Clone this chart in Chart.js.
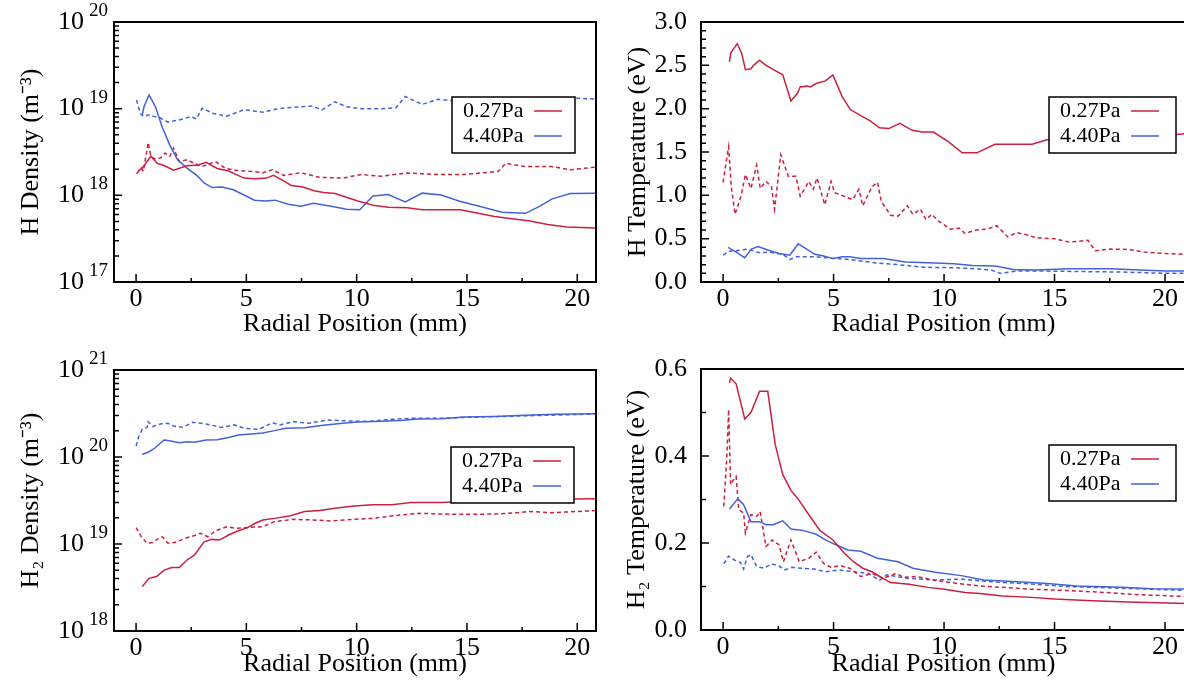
<!DOCTYPE html>
<html>
<head>
<meta charset="utf-8">
<script src="https://cdn.jsdelivr.net/npm/chart.js@4.4.1/dist/chart.umd.min.js"></script>
<style>
  html, body { margin: 0; padding: 0; background: #fff; overflow: hidden; }
  body { width: 1184px; height: 687px; position: relative; }
  canvas { position: absolute; }
</style>
</head>
<body>
<canvas id="hDensity" width="600" height="340" style="left:0;top:0"></canvas>
<canvas id="hTemp" width="600" height="340" style="left:600px;top:0"></canvas>
<canvas id="h2Density" width="600" height="347" style="left:0;top:340px"></canvas>
<canvas id="h2Temp" width="600" height="347" style="left:600px;top:340px"></canvas>
<script>
const RED = 'rgb(204, 32, 64)';
const BLUE = 'rgb(66, 99, 216)';
const FONT = "'Liberation Serif', 'Times New Roman', serif";

const pressures = ['0.27Pa', '4.40Pa'];
const xTicks = [0, 5, 10, 15, 20];
const xTickLabels = ['0', '5', '10', '15', '20'];

// tick values / labels of the four y axes (log labels are 10 + exponent)
const hDensTicks = [1e17, 1e18, 1e19, 1e20];
const hDensTickExp = ['17', '18', '19', '20'];
const h2DensTicks = [1e18, 1e19, 1e20, 1e21];
const h2DensTickExp = ['18', '19', '20', '21'];
const hTempTicks = [0, 0.5, 1.0, 1.5, 2.0, 2.5, 3.0];
const hTempTickLabels = ['0.0', '0.5', '1.0', '1.5', '2.0', '2.5', '3.0'];
const h2TempTicks = [0, 0.2, 0.4, 0.6];
const h2TempTickLabels = ['0.0', '0.2', '0.4', '0.6'];

// H density (m^-3) : [radial position mm, value]
const hDens027 = [[0.1,1.9e18],[0.33,2.14e18],[0.67,2.82e18],[0.96,2.34e18],[1.27,2.21e18],[1.70,1.95e18],[2.31,2.19e18],[2.82,2.24e18],[3.17,2.40e18],[3.68,2.04e18],[4.20,1.91e18],[4.89,1.58e18],[5.37,1.55e18],[5.92,1.58e18],[6.23,1.70e18],[6.61,1.51e18],[7.04,1.30e18],[7.56,1.25e18],[8.07,1.13e18],[8.50,1.08e18],[9.02,1.05e18],[9.54,9.5e17],[10.05,8.6e17],[10.74,7.7e17],[11.43,7.3e17],[12.29,7.2e17],[12.98,6.8e17],[13.84,6.8e17],[14.70,6.8e17],[15.39,6.3e17],[16.25,5.7e17],[16.94,5.4e17],[17.80,5.1e17],[18.66,4.6e17],[19.52,4.3e17],[20.85,4.2e17]];
const hDens027Dash = [[0.02,1.78e18],[0.24,2.06e18],[0.33,1.89e18],[0.55,4.07e18],[0.67,2.82e18],[0.84,2.63e18],[1.10,2.69e18],[1.31,3.07e18],[1.53,2.81e18],[1.70,3.50e18],[1.96,2.45e18],[2.31,2.57e18],[2.65,2.34e18],[2.99,2.15e18],[3.60,2.45e18],[4.03,2.06e18],[4.54,1.94e18],[5.23,1.89e18],[5.75,1.82e18],[6.18,1.97e18],[6.70,1.70e18],[7.47,1.82e18],[8.33,1.61e18],[9.36,1.58e18],[10.22,1.74e18],[11.08,1.66e18],[12.29,1.81e18],[13.67,1.74e18],[14.87,1.74e18],[16.42,1.89e18],[16.76,2.34e18],[17.62,2.15e18],[18.83,2.15e18],[19.69,1.97e18],[20.85,2.12e18]];
const hDens440 = [[0.28,8.45e18],[0.36,1.05e19],[0.59,1.44e19],[0.88,1.05e19],[1.18,6.17e18],[1.53,3.8e18],[1.88,2.57e18],[2.31,2.06e18],[2.75,1.70e18],[3.10,1.38e18],[3.45,1.23e18],[3.89,1.25e18],[4.41,1.16e18],[4.89,1.01e18],[5.37,8.8e17],[5.86,8.6e17],[6.30,8.8e17],[6.90,7.9e17],[7.47,7.5e17],[8.03,8.1e17],[8.85,7.5e17],[9.54,6.9e17],[10.14,6.8e17],[10.74,9.8e17],[11.43,1.02e18],[12.20,8.4e17],[12.98,1.06e18],[13.84,1.01e18],[14.70,8.5e17],[15.56,7.5e17],[16.59,6.4e17],[17.66,6.2e17],[18.31,7.5e17],[18.86,9.1e17],[19.69,1.05e18],[20.85,1.06e18]];
const hDens440Dash = [[0.02,1.26e19],[0.19,8.8e18],[0.33,8.1e18],[0.59,8.5e18],[0.84,8.1e18],[1.10,7.8e18],[1.45,7.0e18],[1.96,7.4e18],[2.48,8.1e18],[2.74,7.6e18],[2.99,1.01e19],[3.51,8.8e18],[4.11,8.2e18],[4.89,9.7e18],[5.75,9.1e18],[6.44,1.0e19],[7.13,1.04e19],[7.99,1.07e19],[8.42,9.7e18],[9.02,1.20e19],[9.54,1.05e19],[10.22,1.0e19],[11.08,1.0e19],[11.77,1.02e19],[12.20,1.38e19],[12.98,1.12e19],[13.67,1.28e19],[15.0,1.2e19],[17.0,1.25e19],[18.9,1.25e19],[20.03,1.32e19],[20.85,1.29e19]];

// H temperature (eV)
const hTemp027 = [[0.29,2.54],[0.34,2.64],[0.64,2.75],[0.84,2.64],[1.01,2.45],[1.26,2.46],[1.38,2.50],[1.65,2.56],[1.94,2.50],[2.36,2.44],[2.70,2.39],[3.07,2.09],[3.37,2.18],[3.49,2.25],[3.79,2.26],[3.96,2.25],[4.21,2.29],[4.63,2.32],[4.97,2.39],[5.39,2.14],[5.76,1.99],[6.23,1.92],[6.66,1.86],[7.08,1.78],[7.50,1.77],[8.00,1.83],[8.56,1.75],[9.01,1.73],[9.52,1.73],[10.19,1.62],[10.82,1.49],[11.49,1.49],[12.30,1.59],[13.14,1.59],[13.98,1.59],[14.66,1.64],[17.19,1.67],[19.88,1.69],[20.95,1.71]];
const hTemp027Dash = [[0.0,1.15],[0.13,1.37],[0.25,1.56],[0.37,1.10],[0.54,0.78],[0.81,0.99],[1.01,1.24],[1.26,1.08],[1.52,1.35],[1.68,1.08],[1.94,1.16],[2.19,1.10],[2.33,0.84],[2.61,1.47],[2.95,1.22],[3.29,1.22],[3.49,0.99],[3.88,1.16],[4.08,1.07],[4.25,1.20],[4.60,0.89],[4.89,1.16],[5.05,1.03],[5.48,0.99],[5.86,0.95],[6.15,1.07],[6.32,0.88],[6.74,1.10],[6.99,1.15],[7.16,0.93],[7.58,0.77],[7.92,0.76],[8.34,0.88],[8.59,0.78],[8.93,0.84],[9.18,0.72],[9.44,0.78],[9.77,0.70],[10.28,0.61],[10.70,0.62],[10.95,0.56],[11.46,0.60],[11.96,0.61],[12.38,0.65],[12.89,0.52],[13.28,0.57],[13.82,0.54],[14.15,0.51],[14.99,0.50],[15.67,0.46],[16.51,0.48],[16.85,0.36],[17.52,0.38],[18.37,0.375],[19.04,0.345],[19.88,0.33],[20.95,0.32]];
const hTemp440 = [[0.23,0.40],[0.63,0.34],[0.98,0.28],[1.28,0.38],[1.58,0.41],[2.02,0.37],[2.53,0.33],[3.02,0.31],[3.40,0.44],[3.78,0.38],[4.15,0.32],[4.55,0.30],[4.97,0.27],[5.39,0.29],[5.73,0.29],[6.23,0.27],[7.25,0.27],[8.26,0.23],[9.60,0.22],[10.45,0.21],[11.29,0.19],[12.30,0.185],[13.14,0.145],[14.15,0.138],[15.67,0.153],[17.52,0.153],[18.87,0.138],[20.05,0.126],[20.95,0.126]];
const hTemp440Dash = [[0.0,0.31],[0.25,0.356],[0.6,0.36],[0.84,0.37],[1.13,0.38],[1.58,0.34],[2.19,0.34],[2.70,0.32],[3.02,0.26],[3.32,0.29],[4.21,0.29],[4.89,0.275],[5.73,0.26],[6.91,0.22],[7.92,0.20],[9.10,0.17],[10.45,0.165],[11.46,0.153],[12.13,0.138],[12.55,0.10],[13.31,0.126],[14.66,0.126],[16.34,0.12],[18.03,0.115],[20.05,0.10],[20.95,0.10]];

// H2 density (m^-3)
const h2Dens027 = [[0.28,3.24e18],[0.59,4.03e18],[0.93,4.22e18],[1.27,5.01e18],[1.62,5.37e18],[1.96,5.37e18],[2.31,6.55e18],[2.65,7.48e18],[3.08,1.06e19],[3.43,1.13e19],[3.77,1.11e19],[4.20,1.27e19],[4.63,1.42e19],[5.06,1.54e19],[5.40,1.73e19],[5.75,1.89e19],[6.27,1.97e19],[6.95,2.10e19],[7.64,2.36e19],[8.33,2.42e19],[9.02,2.57e19],[9.88,2.74e19],[10.74,2.83e19],[11.60,2.83e19],[12.46,2.99e19],[13.84,2.99e19],[15.39,3.15e19],[17.11,3.21e19],[18.83,3.26e19],[20.85,3.32e19]];
const h2Dens027Dash = [[0.0,1.54e19],[0.24,1.21e19],[0.50,1.02e19],[0.76,1.04e19],[1.02,1.16e19],[1.19,1.21e19],[1.45,1.02e19],[1.79,1.05e19],[2.31,1.18e19],[2.65,1.25e19],[2.91,1.33e19],[3.25,1.21e19],[3.60,1.42e19],[4.11,1.58e19],[4.54,1.51e19],[5.06,1.55e19],[5.75,1.58e19],[6.27,1.81e19],[7.13,1.92e19],[7.99,1.89e19],[8.85,1.84e19],[9.88,1.92e19],[10.74,1.97e19],[11.94,2.15e19],[12.81,2.25e19],[14.53,2.19e19],[16.25,2.21e19],[17.28,2.29e19],[17.80,2.37e19],[18.83,2.29e19],[20.85,2.42e19]];
const h2Dens440 = [[0.28,1.07e20],[0.59,1.15e20],[0.84,1.26e20],[1.27,1.57e20],[1.45,1.55e20],[1.96,1.46e20],[2.31,1.50e20],[2.65,1.48e20],[3.17,1.57e20],[3.68,1.58e20],[4.20,1.68e20],[4.63,1.79e20],[5.23,1.84e20],[5.75,1.89e20],[6.27,2.01e20],[6.78,2.14e20],[7.64,2.17e20],[8.50,2.31e20],[9.36,2.44e20],[10.05,2.52e20],[11.08,2.57e20],[11.94,2.63e20],[12.81,2.74e20],[13.84,2.75e20],[14.87,2.88e20],[16.25,2.93e20],[17.62,3.01e20],[18.99,3.09e20],[20.85,3.15e20]];
const h2Dens440Dash = [[0.0,1.34e20],[0.12,1.71e20],[0.28,2.08e20],[0.50,2.19e20],[0.55,2.55e20],[0.76,2.24e20],[1.10,2.40e20],[1.45,2.44e20],[1.70,2.27e20],[2.13,2.19e20],[2.56,2.51e20],[3.17,2.40e20],[3.86,2.19e20],[4.46,2.34e20],[4.89,2.14e20],[5.58,2.08e20],[6.18,2.48e20],[6.52,2.34e20],[7.13,2.55e20],[7.81,2.44e20],[8.67,2.66e20],[9.71,2.59e20],[10.57,2.57e20],[11.60,2.71e20],[12.46,2.78e20],[13.67,2.78e20],[15.04,2.86e20],[16.76,2.93e20],[18.49,3.01e20],[20.85,3.12e20]];

// H2 temperature (eV)
const h2Temp027 = [[0.29,0.568],[0.34,0.579],[0.59,0.566],[0.98,0.485],[1.26,0.50],[1.65,0.549],[2.02,0.549],[2.36,0.426],[2.70,0.357],[3.07,0.321],[3.37,0.303],[3.88,0.265],[4.38,0.229],[4.97,0.207],[5.48,0.177],[5.90,0.157],[6.32,0.142],[6.74,0.134],[7.08,0.123],[7.58,0.109],[8.42,0.105],[9.27,0.098],[9.94,0.094],[10.95,0.086],[11.63,0.084],[12.64,0.078],[13.98,0.075],[14.99,0.071],[16.68,0.0675],[18.37,0.0645],[20.95,0.061]];
const h2Temp027Dash = [[0.03,0.284],[0.17,0.399],[0.25,0.507],[0.34,0.334],[0.47,0.345],[0.59,0.353],[0.71,0.276],[0.93,0.269],[1.01,0.223],[1.26,0.265],[1.52,0.261],[1.68,0.272],[1.94,0.192],[2.22,0.207],[2.53,0.196],[2.73,0.157],[3.07,0.207],[3.45,0.157],[3.88,0.165],[4.21,0.179],[4.55,0.153],[4.89,0.144],[5.31,0.148],[5.73,0.142],[6.23,0.123],[6.74,0.13],[7.25,0.119],[7.83,0.13],[8.17,0.121],[8.76,0.123],[9.60,0.114],[10.61,0.107],[11.63,0.101],[12.64,0.098],[13.82,0.094],[15.50,0.091],[17.35,0.086],[18.87,0.081],[20.95,0.077]];
const h2Temp440 = [[0.29,0.278],[0.67,0.302],[0.93,0.288],[1.26,0.249],[1.65,0.249],[1.94,0.242],[2.27,0.242],[2.70,0.251],[3.07,0.232],[3.62,0.229],[4.21,0.22],[4.63,0.207],[5.05,0.197],[5.64,0.184],[6.23,0.181],[6.99,0.165],[7.92,0.157],[8.59,0.142],[9.60,0.133],[10.78,0.125],[11.79,0.115],[13.31,0.111],[14.66,0.107],[16.01,0.101],[18.03,0.098],[19.38,0.095],[20.95,0.094]];
const h2Temp440Dash = [[0.03,0.152],[0.25,0.17],[0.51,0.161],[0.79,0.155],[0.93,0.14],[1.10,0.169],[1.26,0.173],[1.52,0.146],[1.85,0.142],[2.19,0.152],[2.53,0.147],[2.78,0.138],[3.12,0.144],[3.54,0.142],[4.13,0.14],[4.63,0.134],[5.22,0.138],[5.90,0.134],[6.57,0.13],[7.08,0.114],[7.41,0.127],[8.26,0.119],[9.60,0.115],[10.78,0.117],[12.13,0.111],[13.82,0.106],[15.50,0.10],[18.03,0.096],[20.95,0.091]];

function pts(arr) {
  return arr.map(p => ({x: p[0], y: p[1]}));
}

function series(solid027, dash027, solid440, dash440) {
  const base = {pointRadius: 0, borderWidth: 1.5, tension: 0, fill: false};
  return [
    Object.assign({label: pressures[0], data: pts(solid027), borderColor: RED, inLegend: true}, base),
    Object.assign({label: pressures[1], data: pts(solid440), borderColor: BLUE, inLegend: true}, base),
    Object.assign({label: pressures[0] + ' (dashed)', data: pts(dash027), borderColor: RED, borderDash: [4, 3]}, base),
    Object.assign({label: pressures[1] + ' (dashed)', data: pts(dash440), borderColor: BLUE, borderDash: [4, 3]}, base),
  ];
}

// minor tick positions between labelled ticks
function logMinors(decades) {
  const out = [];
  decades.slice(0, -1).forEach(d => { for (let k = 2; k < 10; k++) out.push(k * d); });
  return out;
}
function linMinors(max, step) {
  const out = [];
  for (let i = 0; i * step <= max + 1e-9; i++) out.push(+(i * step).toFixed(3));
  return out;
}

// axis box, inward ticks, exponents of log labels and legend box
const framePlugin = {
  id: 'frame',
  afterDraw(chart, args, o) {
    const {ctx, chartArea: a, scales: {x, y}} = chart;
    ctx.save();
    ctx.strokeStyle = '#000';
    ctx.lineWidth = 2;
    ctx.strokeRect(a.left, a.top, a.right - a.left, a.bottom - a.top);

    ctx.lineWidth = 1.5;
    ctx.beginPath();
    xTicks.forEach(v => {
      const px = x.getPixelForValue(v);
      ctx.moveTo(px, a.bottom); ctx.lineTo(px, a.bottom - 8);
      const pm = x.getPixelForValue(v + 2.5);
      if (pm < a.right) { ctx.moveTo(pm, a.bottom); ctx.lineTo(pm, a.bottom - 4); }
    });
    o.minor.forEach(v => {
      const py = y.getPixelForValue(v);
      ctx.moveTo(a.left, py); ctx.lineTo(a.left + 5, py);
    });
    o.major.forEach(v => {
      const py = y.getPixelForValue(v);
      ctx.moveTo(a.left, py); ctx.lineTo(a.left + 8, py);
    });
    ctx.stroke();

    if (o.exponents) {
      ctx.fillStyle = '#000';
      ctx.font = '19px ' + FONT;
      ctx.textAlign = 'left';
      ctx.textBaseline = 'middle';
      o.major.forEach((v, i) => {
        const py = y.getPixelForValue(v);
        ctx.fillText(o.exponents[i], a.left - o.expGap, py - 11);
      });
    }

    const L = o.legend;
    ctx.fillStyle = '#fff';
    ctx.fillRect(L.x, L.y, L.w, L.h);
    ctx.lineWidth = 1.5;
    ctx.strokeStyle = '#000';
    ctx.strokeRect(L.x, L.y, L.w, L.h);
    ctx.font = '22px ' + FONT;
    ctx.textBaseline = 'middle';
    ctx.textAlign = 'left';
    chart.data.datasets.filter(d => d.inLegend).forEach((d, i) => {
      const cy = L.y + 14 + i * 25;
      ctx.fillStyle = '#000';
      ctx.fillText(d.label, L.x + 11, cy);
      ctx.strokeStyle = d.borderColor;
      ctx.lineWidth = 1.5;
      ctx.beginPath();
      ctx.moveTo(L.x + 82, cy); ctx.lineTo(L.x + 110, cy);
      ctx.stroke();
    });
    ctx.restore();
  }
};

function makePanel(id, p) {
  const tickFont = {family: FONT, size: 26};
  new Chart(document.getElementById(id), {
    type: 'line',
    data: {datasets: p.datasets},
    options: {
      responsive: false,
      animation: false,
      devicePixelRatio: 1,
      layout: {padding: {top: p.padTop, right: p.padRight, left: 0, bottom: 0}},
      plugins: {
        legend: {display: false},
        tooltip: {enabled: false},
        frame: {major: p.yTicks, minor: p.yMinor, legend: p.legend, exponents: p.yExp, expGap: 25},
      },
      scales: {
        x: {
          type: 'linear', min: -1, max: p.xMax,
          grid: {display: false}, border: {display: false},
          afterBuildTicks: s => { s.ticks = xTicks.map(v => ({value: v})); },
          afterFit: s => { s.height = p.xHeight; },
          ticks: {callback: (v, i) => xTickLabels[i], font: tickFont, color: '#000', padding: -6, maxRotation: 0, autoSkip: false},
          title: {display: true, text: 'Radial Position (mm)', font: tickFont, color: '#000', padding: {top: 0, bottom: p.xTitlePad}},
        },
        y: {
          type: p.yType, min: p.yMin, max: p.yMax,
          grid: {display: false}, border: {display: false},
          afterBuildTicks: s => { s.ticks = p.yTicks.map(v => ({value: v})); },
          afterFit: s => { s.width = p.yWidth; s.paddingTop = 0; s.paddingBottom = 0; },
          ticks: {callback: (v, i) => (p.yExp ? '10' : p.yLabels[i]), font: tickFont, color: '#000', padding: p.yTickPad, autoSkip: false},
          title: {display: true, text: p.yTitle, font: tickFont, color: '#000', padding: {top: p.yTitlePad, bottom: 0}},
        },
      },
    },
    plugins: [framePlugin],
  });
}

makePanel('hDensity', {
  datasets: series(hDens027, hDens027Dash, hDens440, hDens440Dash),
  yType: 'logarithmic', yMin: 1e17, yMax: 1e20,
  yTicks: hDensTicks, yExp: hDensTickExp, yMinor: logMinors(hDensTicks),
  yTitle: 'H Density (m⁻³)',
  padTop: 22, padRight: 4, yWidth: 114, xHeight: 58, xMax: 20.85,
  xTitlePad: 0, yTitlePad: 16, yTickPad: 22,
  legend: {x: 452, y: 97, w: 123, h: 56},
});

makePanel('hTemp', {
  datasets: series(hTemp027, hTemp027Dash, hTemp440, hTemp440Dash),
  yType: 'linear', yMin: 0, yMax: 3.0,
  yTicks: hTempTicks, yLabels: hTempTickLabels, yMinor: linMinors(3.0, 0.1),
  yTitle: 'H Temperature (eV)',
  padTop: 22, padRight: 14, yWidth: 101, xHeight: 58, xMax: 20.95,
  xTitlePad: 0, yTitlePad: 23, yTickPad: 6,
  legend: {x: 449, y: 97, w: 127, h: 56},
});

makePanel('h2Density', {
  datasets: series(h2Dens027, h2Dens027Dash, h2Dens440, h2Dens440Dash),
  yType: 'logarithmic', yMin: 1e18, yMax: 1e21,
  yTicks: h2DensTicks, yExp: h2DensTickExp, yMinor: logMinors(h2DensTicks),
  yTitle: 'H₂ Density (m⁻³)',
  padTop: 30, padRight: 4, yWidth: 114, xHeight: 56, xMax: 20.85,
  xTitlePad: 7, yTitlePad: 16, yTickPad: 22,
  legend: {x: 451, y: 107, w: 123, h: 56},
});

makePanel('h2Temp', {
  datasets: series(h2Temp027, h2Temp027Dash, h2Temp440, h2Temp440Dash),
  yType: 'linear', yMin: 0, yMax: 0.6,
  yTicks: h2TempTicks, yLabels: h2TempTickLabels, yMinor: linMinors(0.6, 0.1),
  yTitle: 'H₂ Temperature (eV)',
  padTop: 29, padRight: 14, yWidth: 101, xHeight: 57, xMax: 20.95,
  xTitlePad: 7, yTitlePad: 22, yTickPad: 6,
  legend: {x: 449, y: 105, w: 127, h: 56},
});
</script>
</body>
</html>
